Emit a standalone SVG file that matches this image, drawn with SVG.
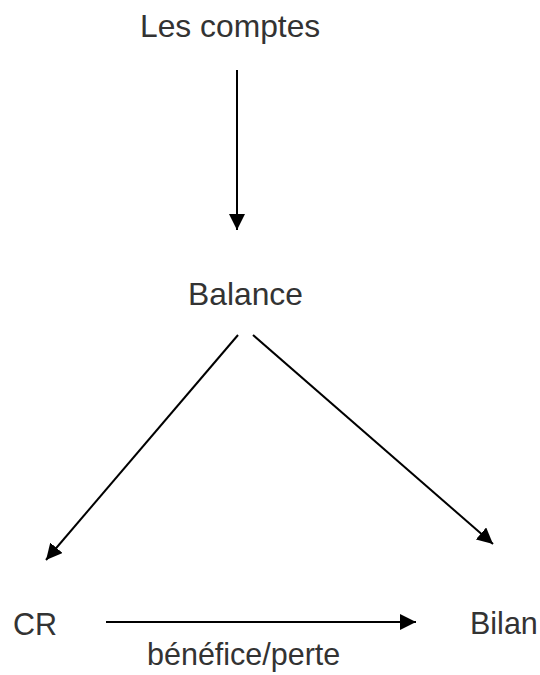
<svg xmlns="http://www.w3.org/2000/svg" width="540" height="675" viewBox="0 0 540 675">
<style>
text{font-family:"Liberation Sans",Arial,sans-serif;font-size:30.5px;fill:#333}
.big{font-size:31.8px}
.c{stroke:#000;stroke-width:2;fill:none}
</style>
<defs>
<marker id="ah" markerWidth="16" markerHeight="16" viewBox="0 0 16 16" refX="16" refY="8" orient="auto" markerUnits="userSpaceOnUse">
<path d="M0,0 L16,8 L0,16 Z" fill="#000"/>
</marker>
</defs>
<rect width="540" height="675" fill="#fff"/>
<g id="connectors">
<line class="c" x1="237" y1="70" x2="237" y2="230" marker-end="url(#ah)"/>
<line class="c" x1="238" y1="335" x2="46" y2="560" marker-end="url(#ah)"/>
<line class="c" x1="253" y1="335" x2="493" y2="544" marker-end="url(#ah)"/>
<line class="c" x1="106" y1="622" x2="416" y2="622" marker-end="url(#ah)"/>
</g>
<g id="les-comptes"><text class="big" x="140" y="37">Les comptes</text></g>
<g id="balance"><text class="big" x="188" y="305">Balance</text></g>
<g id="cr"><text x="13" y="635">CR</text></g>
<g id="bilan"><text x="470" y="634">Bilan</text></g>
<g id="label"><text x="147" y="665">bénéfice/perte</text></g>
</svg>
